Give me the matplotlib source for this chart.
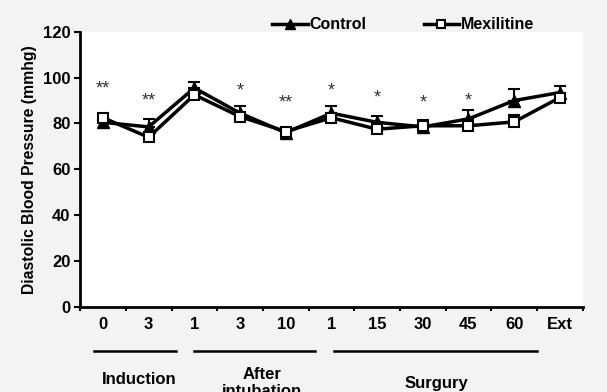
import matplotlib.pyplot as plt
import matplotlib.transforms as mtransforms
import numpy as np

plt.rcParams['font.family'] = ['Liberation Sans', 'DejaVu Sans']
plt.rcParams['font.weight'] = 'bold'

labels = ['0', '3', '1', '3', '10', '1', '15', '30', '45', '60', 'Ext']
control = [80.5, 78.5, 95.5, 84.5, 76, 84.5, 80.5, 78.5, 82, 90, 93.5]
control_err = [0, 3.5, 2.5, 3, 0.5, 3, 2.7, 1, 3.8, 5, 3]
mexil = [82.5, 74, 92.5, 83, 76.5, 82.5, 77.5, 79, 79, 80.7, 91.3]
mexil_err = [0, 0, 0, 0, 1.5, 0, 0, 2.5, 0, 3, 0]
stars = ['**', '**', '', '*', '**', '*', '*', '*', '*', '', '']
star_y = [95, 90, 0, 94, 89, 94, 91, 89, 90, 0, 0]

groups = ['Induction', 'After\nintubation', 'Surgury']
group_spans = [(0.3, 2.1), (2.5, 5.15), (5.55, 10.0)]
group_label_x = [1.3, 3.98, 7.8]
group_label_y = [-0.265, -0.275, -0.28]

x = np.arange(len(labels)) + 0.5

fig = plt.figure(figsize=(6.07, 3.92), dpi=100, facecolor='#f3f3f3')
ax = fig.add_axes([0.132, 0.217, 0.828, 0.702])
ax.set_facecolor('white')

ax.errorbar(x, control, yerr=[np.zeros(len(x)), control_err], fmt='none',
            ecolor='black', elinewidth=1.5, capsize=4, capthick=1.5, zorder=2)
ax.errorbar(x, mexil, yerr=[np.zeros(len(x)), mexil_err], fmt='none',
            ecolor='black', elinewidth=1.5, capsize=4, capthick=1.5, zorder=2)
ax.plot(x, control, color='black', lw=2.5, marker='^', ms=9,
        mfc='black', mec='black', label='Control', zorder=3)
ax.plot(x, mexil, color='black', lw=2.5, marker='s', ms=7.5,
        mfc='white', mec='black', mew=1.5, label='Mexilitine', zorder=4)

for xi, s, sy in zip(x, stars, star_y):
    if s:
        ax.text(xi, sy, s, ha='center', va='center', fontsize=13,
                fontweight='normal', color='#333333')

ax.set_xlim(0, 11)
ax.set_ylim(0, 120)
ax.set_yticks([0, 20, 40, 60, 80, 100, 120])
ax.set_xticks(np.arange(0, 12))
ax.set_xticklabels([])
ax.set_xticks(x, minor=True)
ax.set_xticklabels(labels, minor=True)
ax.tick_params(axis='x', which='minor', length=0, pad=7, labelsize=12)
ax.tick_params(axis='x', which='major', length=3, width=1.5, direction='out')
ax.tick_params(axis='y', length=4, width=1.5, labelsize=12, pad=3)
for sp in ['top', 'right']:
    ax.spines[sp].set_visible(False)
for sp in ['left', 'bottom']:
    ax.spines[sp].set_linewidth(2)

ax.set_ylabel('Diastolic Blood Pressure (mmhg)', fontsize=11.3, fontweight='bold', labelpad=4)

trans = mtransforms.blended_transform_factory(ax.transData, ax.transAxes)
for (a, b), name, lx, ly in zip(group_spans, groups, group_label_x, group_label_y):
    ax.plot([a, b], [-0.16, -0.16], color='black', lw=1.8, transform=trans, clip_on=False)
    ax.text(lx, ly, name, transform=trans, ha='center', va='center',
            fontsize=12, fontweight='bold', linespacing=1.15)

ax.legend(loc='lower left', bbox_to_anchor=(0.37, 0.975), ncol=2, frameon=False,
          fontsize=11.5, handlelength=2.2, handletextpad=0.1, columnspacing=3.6,
          markerscale=0.75, borderaxespad=0)

fig.savefig('out.png', dpi=100, facecolor=fig.get_facecolor())
